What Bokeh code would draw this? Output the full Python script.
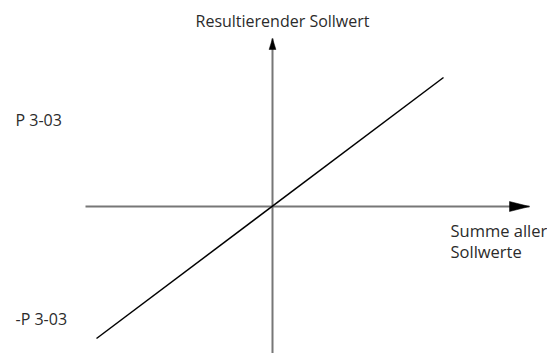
from bokeh.plotting import figure
from bokeh.models import Range1d
from bokeh.core.properties import value
from bokeh.embed import file_html
from bokeh.resources import INLINE

# --- data (origin = crossing of the axes; 1 unit = 100 px) ---
line_x = [-1.76, 1.71]
line_y = [-1.32, 1.29]

h_axis_x = [-1.87, 2.57]   # horizontal axis extent (arrow tip at right)
v_axis_y = [-1.47, 1.68]   # vertical axis extent (arrow tip at top)

label_text = ["Resultierender Sollwert", "Summe aller", "Sollwerte", "P 3-03", "-P 3-03"]
label_x = [0.10, 1.78, 1.78, -2.57, -2.57]
label_y = [1.855, -0.237, -0.447, 0.863, -1.123]
label_align = ["center", "left", "left", "left", "left"]
label_size = ["16px", "16.5px", "16.5px", "16px", "16px"]

# --- style ---
AXIS_COLOR = "#777777"
TEXT_COLOR = "#2b2b2b"
HEAD_H_LEN, HEAD_H_W = 0.20, 0.10   # right arrow head (length, width)
HEAD_V_LEN, HEAD_V_W = 0.11, 0.068  # top arrow head

p = figure(width=547, height=353, output_backend="svg", toolbar_location=None,
           x_range=Range1d(-2.72, 2.75), y_range=Range1d(-1.47, 2.06),
           min_border=0)
p.axis.visible = False
p.grid.visible = False
p.outline_line_color = None

# axes
p.line(h_axis_x, [0, 0], line_color=AXIS_COLOR, line_width=2)
p.line([0, 0], v_axis_y, line_color=AXIS_COLOR, line_width=2)

# arrow heads computed from the axis ends
tx = h_axis_x[1]
ty = v_axis_y[1]
p.patches(
    xs=[[tx, tx - HEAD_H_LEN, tx - HEAD_H_LEN], [0, -HEAD_V_W / 2, HEAD_V_W / 2]],
    ys=[[0, HEAD_H_W / 2, -HEAD_H_W / 2], [ty, ty - HEAD_V_LEN, ty - HEAD_V_LEN]],
    fill_color="black", line_color="black", line_width=0.5,
)

# characteristic line
p.line(line_x, line_y, line_color="black", line_width=1.5)

# labels
p.text(x=label_x, y=label_y, text=label_text, text_align=label_align,
       text_baseline="alphabetic", text_font=value("Open Sans"),
       text_font_size=label_size, text_color=TEXT_COLOR)

open("out.html", "w").write(file_html(p, INLINE))
